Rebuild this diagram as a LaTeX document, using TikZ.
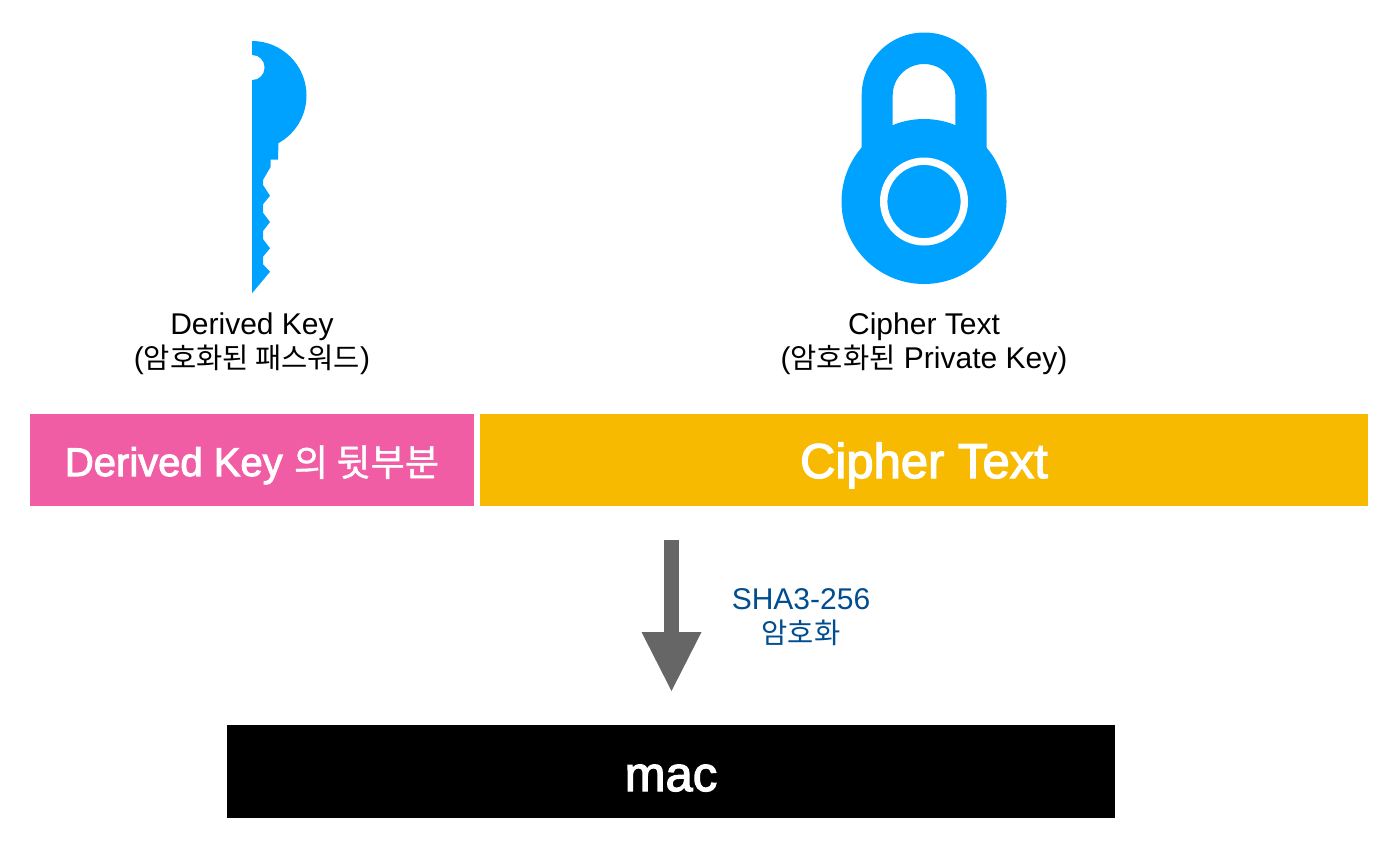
\documentclass[tikz,border=0pt]{standalone}
\usepackage{fontspec}
\usepackage{xcolor}
\usetikzlibrary{arrows.meta}
\setmainfont{Liberation Sans}
\newfontfamily\kr[Scale=0.95]{Noto Sans CJK KR}
\newfontfamily\heavy[FakeBold=2.5]{Liberation Sans}
\newfontfamily\heavykr[Scale=0.93,FakeBold=1.0]{Noto Sans CJK KR}
\definecolor{iconblue}{HTML}{00A2FF}
\definecolor{barpink}{HTML}{F05DA5}
\definecolor{barorange}{HTML}{F7BA00}
\definecolor{labelblue}{HTML}{004D8F}
\definecolor{arrowgray}{HTML}{666666}
\tikzset{
    bar/.style={anchor=center, inner sep=0pt, minimum height=46pt, text=white, text depth=0pt},
    caption/.style={align=center, font=\fontsize{15}{17}\selectfont},
}

\begin{document}
\begin{tikzpicture}[x=0.5pt, y=-0.5pt]
    \useasboundingbox (0,0) rectangle (1400,852);

    % Draw the key
    \fill[iconblue] (252,41) arc[start angle=-90, end angle=61, radius=54.5]
        -- (278,159.5) -- (270.7,159.5) -- (270.7,166.7) -- (263,180) -- (263,185)
        -- (270,195.7) -- (263,204.3) -- (263,212.7) -- (270,222) -- (263,231)
        -- (263,239) -- (270,248.3) -- (263,256.7) -- (263,264.3) -- (270,271.7)
        -- (252,293.3) -- cycle;
    \fill[white] (252,55) arc[start angle=-90, end angle=90, radius=12.5] -- cycle;

    % Draw the lock
    \fill[iconblue, even odd rule]
        (861.7,150) -- (861.7,95) arc[start angle=180, end angle=360, radius=62.5]
        -- (986.7,150) -- cycle
        (892.7,150) -- (892.7,95.3) arc[start angle=180, end angle=360, radius=31.3]
        -- (955.3,150) -- cycle;
    \fill[iconblue] (924,201.5) circle (82.5);
    \draw[white, line width=3.7pt] (924,201.5) circle (40.3);

    % Add the captions
    \node[caption] (keylabel) at (252,344) {Derived Key\\({\kr 암호화된 패스워드})};
    \node[caption] (locklabel) at (924,344) {Cipher Text\\({\kr 암호화된} Private Key)};

    % Draw the bars
    \node[bar, fill=barpink, minimum width=222pt, text height=16pt, font=\fontsize{20}{24}\heavy] (tailbar) at (252,460)
        {Derived Key {\heavykr 의 뒷부분}};
    \node[bar, fill=barorange, minimum width=444pt, text height=18pt, font=\fontsize{24.5}{28}\heavy] (cipherbar) at (924,460) {Cipher Text};
    \node[bar, fill=black, minimum width=444pt, minimum height=46.5pt, text height=19.5pt, font=\fontsize{24.5}{28}\heavy] (macbar) at (671,771.5) {mac};

    % Draw the arrow
    \coordinate (arrowtop) at (671.5,540);
    \coordinate (arrowtip) at (671.5,691);
    \draw[arrowgray, line width=7.5pt, -{Triangle[length=29.5pt, width=30pt, line width=0pt]}] (arrowtop) -- (arrowtip);
    \node[caption, text=labelblue] (hashlabel) at (801,617) {SHA3-256\\{\kr 암호화}};
\end{tikzpicture}
\end{document}
